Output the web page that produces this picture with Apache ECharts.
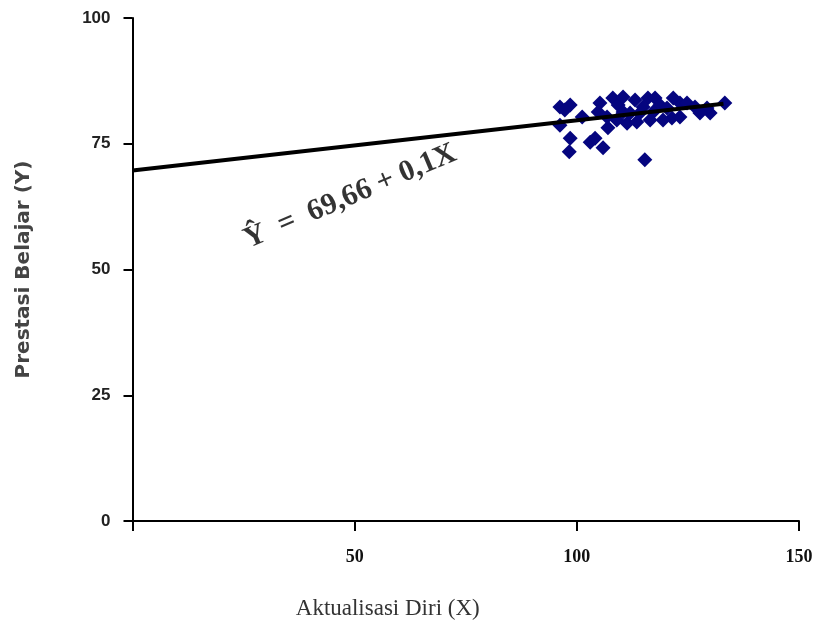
<!DOCTYPE html>
<html>
<head>
<meta charset="utf-8">
<script src="https://cdn.jsdelivr.net/npm/echarts@6/dist/echarts.min.js"></script>
<style>html,body{margin:0;padding:0;background:#fff}#c{width:822px;height:634px}</style>
</head>
<body>
<div id="c"></div>
<script>
// Observed data: Aktualisasi Diri (X) vs Prestasi Belajar (Y)
var xValues = [96.2, 98.5, 97.3, 96.2, 98.5, 98.3, 101.2, 103.0, 104.1, 105.9, 107.0, 105.2, 104.8, 108.1, 109.3, 110.4, 111.3, 113.1, 114.2, 115.3, 116.0, 117.6, 118.7, 114.9, 117.2, 116.5, 120.3, 121.4, 123.2, 123.2, 124.8, 130.0, 129.3, 133.3, 112.0, 109.0, 106.8, 113.5, 119.4, 126.6, 127.7, 110.4, 121.7];
var yValues = [82.3, 82.7, 81.7, 78.7, 76.1, 73.4, 80.3, 75.3, 76.1, 74.2, 78.2, 83.1, 81.3, 84.1, 82.7, 81.3, 79.1, 83.7, 81.1, 71.8, 84.1, 84.1, 82.7, 82.3, 81.3, 79.7, 82.1, 80.1, 83.1, 80.3, 83.1, 81.1, 82.1, 83.1, 81.1, 79.7, 80.3, 79.3, 79.7, 82.3, 81.1, 84.3, 84.1];
// Regression line Y = 69.66 + 0.1X
var lineX = [0, 133];
var lineY = [69.66, 82.96];
var xTicks = [0, 50, 100, 150];
var yTicks = [0, 25, 50, 75, 100];
var equationText = 'Ŷ  =  69,66 + 0,1X';
var equationAt = [49, 64.5];

var scatterData = xValues.map(function (x, i) { return [x, yValues[i]]; });
var lineData = lineX.map(function (x, i) { return [x, lineY[i]]; });

var chart = echarts.init(document.getElementById('c'));
chart.setOption({
  backgroundColor: '#fff',
  animation: false,
  grid: { left: 132.5, right: 23, top: 18, bottom: 113 },
  xAxis: {
    type: 'value', min: 0, max: 150, interval: 50,
    name: 'Aktualisasi Diri (X)', nameLocation: 'middle', nameGap: 76,
    nameTextStyle: { fontFamily: 'Liberation Serif', fontSize: 23, color: '#333', padding: [0, 156, 0, 0] },
    axisLine: { lineStyle: { color: '#000', width: 2 } },
    axisTick: { length: 10, lineStyle: { color: '#000', width: 2 } },
    splitLine: { show: false },
    axisLabel: {
      margin: 27, color: '#111', fontFamily: 'Liberation Serif', fontWeight: 'bold', fontSize: 18,
      formatter: function (v) { return v === 0 ? '' : String(v); }
    }
  },
  yAxis: {
    type: 'value', min: 0, max: 100, interval: 25,
    name: 'Prestasi Belajar (Y)', nameLocation: 'middle', nameGap: 99,
    nameTextStyle: { fontFamily: 'DejaVu Sans', fontWeight: 'bold', fontSize: 20, color: '#444' },
    axisLine: { lineStyle: { color: '#000', width: 2 } },
    axisTick: { length: 9, lineStyle: { color: '#000', width: 2 } },
    splitLine: { show: false },
    axisLabel: { margin: 22, color: '#222', fontFamily: 'Liberation Sans Narrow, Liberation Sans', fontWeight: 'bold', fontSize: 17 }
  },
  series: [
    {
      type: 'scatter', data: scatterData, symbol: 'diamond', symbolSize: [15, 15],
      itemStyle: { color: '#05057f', opacity: 1 }, z: 2
    },
    {
      type: 'line', data: lineData, symbol: 'none',
      lineStyle: { color: '#000', width: 4 }, z: 3
    },
    {
      type: 'scatter', data: [equationAt], symbolSize: 0,
      label: {
        show: true, position: 'inside', rotate: 23,
        formatter: function () { return equationText; },
        fontFamily: 'Liberation Serif', fontWeight: 'bold', fontSize: 30, color: '#000'
      }, z: 4
    }
  ]
});
</script>
</body>
</html>
